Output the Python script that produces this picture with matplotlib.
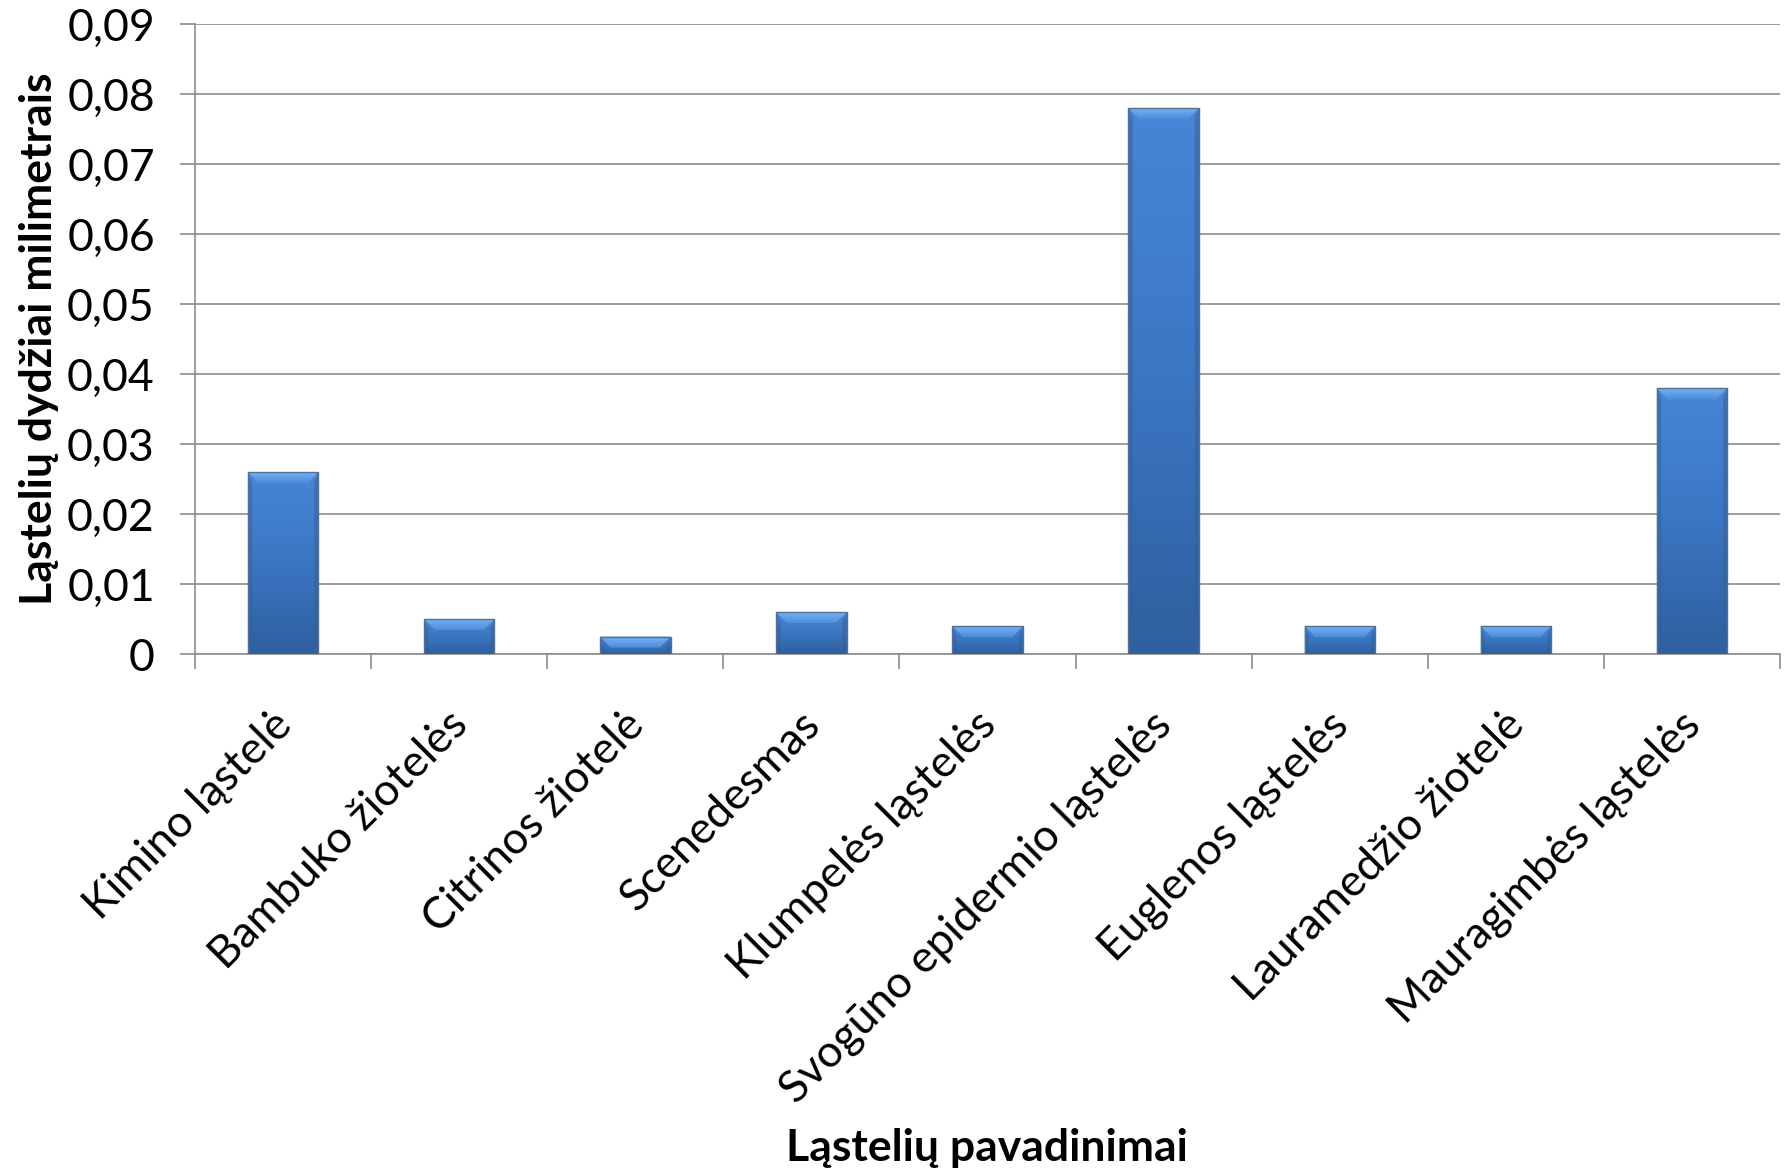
import numpy as np
import matplotlib
matplotlib.use("Agg")
from matplotlib import pyplot as plt
from matplotlib.colors import LinearSegmentedColormap
from matplotlib.patches import Polygon
from matplotlib.ticker import FuncFormatter, MultipleLocator
from matplotlib.transforms import ScaledTranslation

categories = [
    "Kimino ląstelė",
    "Bambuko žiotelės",
    "Citrinos žiotelė",
    "Scenedesmas",
    "Klumpelės ląstelės",
    "Svogūno epidermio ląstelės",
    "Euglenos ląstelės",
    "Lauramedžio žiotelė",
    "Mauragimbės ląstelės",
]
values = [0.026, 0.005, 0.0025, 0.006, 0.004, 0.078, 0.004, 0.004, 0.038]

x_label = "Ląstelių pavadinimai"
y_label = "Ląstelių dydžiai milimetrais"

plt.rcParams["font.family"] = ["Lato", "DejaVu Sans"]
grid_color = "#8c8c8c"


def comma_format(v, pos):
    if abs(v) < 1e-12:
        return "0"
    return f"{v:.2f}".replace(".", ",")


def draw_bevel_bar(ax, bar, bevel_y, bevel_x):
    x0, w, h = bar.get_x(), bar.get_width(), bar.get_height()
    # vertical gradient body, clipped to the bar rectangle
    cmap = LinearSegmentedColormap.from_list("body", ["#4786d6", "#3b76c2", "#2f5f9f"])
    grad = np.linspace(0, 1, 256).reshape(-1, 1)
    img = ax.imshow(grad, cmap=cmap, aspect="auto", extent=(x0, x0 + w, 0, h),
                    origin="upper", zorder=3)
    img.set_clip_path(bar)
    # darker side bevels
    side = "#2f619f"
    ax.add_patch(Polygon([(x0, 0), (x0 + bevel_x * 0.4, 0), (x0 + bevel_x * 0.4, h - bevel_y), (x0, h)],
                         closed=True, facecolor=side, edgecolor="none", alpha=0.5, zorder=4))
    ax.add_patch(Polygon([(x0 + w, 0), (x0 + w - bevel_x * 0.4, 0), (x0 + w - bevel_x * 0.4, h - bevel_y), (x0 + w, h)],
                         closed=True, facecolor=side, edgecolor="none", alpha=0.5, zorder=4))
    # lighter top bevel with its own gradient
    top = Polygon([(x0, h), (x0 + w, h), (x0 + w - bevel_x, h - bevel_y), (x0 + bevel_x, h - bevel_y)],
                  closed=True, facecolor="none", edgecolor="none", zorder=4)
    ax.add_patch(top)
    bcmap = LinearSegmentedColormap.from_list("bevel", ["#78b4f5", "#4d8ddb"])
    bimg = ax.imshow(grad, cmap=bcmap, aspect="auto", extent=(x0, x0 + w, h - bevel_y, h),
                     origin="upper", zorder=4)
    bimg.set_clip_path(top)
    ax.add_patch(Polygon([(x0, 0), (x0 + w, 0), (x0 + w, h), (x0, h)], closed=True,
                         facecolor="none", edgecolor="#55708f", linewidth=1.0, zorder=5))


fig = plt.figure(figsize=(17.91, 11.70), dpi=100)
ax = fig.add_axes([0.1089, 0.441, 0.885, 0.5385])

x = np.arange(len(categories))
bars = ax.bar(x, values, width=0.4, color="#3a78c2", zorder=2)
bevel_y = 0.09 / 630 * 11
for b in bars:
    draw_bevel_bar(ax, b, bevel_y, 0.06)

ax.set_xlim(-0.5, len(categories) - 0.5)
ax.set_ylim(0, 0.09)
ax.yaxis.set_major_locator(MultipleLocator(0.01))
ax.yaxis.set_major_formatter(FuncFormatter(comma_format))
ax.grid(axis="y", color=grid_color, linewidth=1.2, zorder=0)
ax.set_axisbelow(True)

ax.set_xticks(x)
ax.set_xticks(np.arange(len(categories) + 1) - 0.5, minor=True)
ax.set_xticklabels(categories, rotation=45, ha="right", va="top",
                   rotation_mode="anchor", fontsize=32)
ax.tick_params(axis="x", which="major", length=0, pad=36)
ax.tick_params(axis="x", which="minor", length=11, width=1.2, color=grid_color)
ax.tick_params(axis="y", length=11, width=1.2, color=grid_color, labelsize=32, pad=18)

# nudge the rotated category labels a little to the left
shift = ScaledTranslation(-9 / 72, 0, fig.dpi_scale_trans)
for lbl in ax.get_xticklabels():
    lbl.set_transform(lbl.get_transform() + shift)

for s in ["top", "right"]:
    ax.spines[s].set_visible(False)
for s in ["left", "bottom"]:
    ax.spines[s].set_color(grid_color)
    ax.spines[s].set_linewidth(1.2)

ax.set_ylabel(y_label, fontsize=32, fontweight="bold", labelpad=6)
fig.text(0.551, 0.019, x_label, ha="center", va="center", fontsize=32, fontweight="bold")

fig.savefig("out.png", dpi=100, facecolor="white")
